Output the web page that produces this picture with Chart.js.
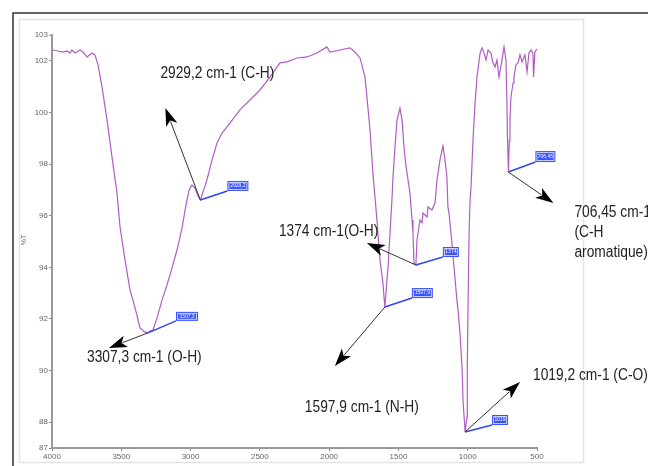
<!DOCTYPE html>
<html>
<head>
<meta charset="utf-8">
<script src="https://cdn.jsdelivr.net/npm/chart.js@4.4.1/dist/chart.umd.min.js"></script>
<style>
  html, body { margin: 0; padding: 0; background: #fff; }
  #wrap { position: relative; width: 648px; height: 466px; }
</style>
</head>
<body>
<div id="wrap"><canvas id="ir" width="648" height="466"></canvas></div>
<script>
// spectrum (wavenumber in cm-1, transmittance in %T)
const wavenumbers = [
  3993, 3957, 3921, 3892, 3870, 3856, 3834, 3798, 3776, 3747, 3711, 3690, 3668, 3639, 3603, 3567,
  3531, 3509, 3473, 3437, 3416, 3387, 3365, 3329, 3307, 3293, 3271, 3242, 3206, 3170, 3134, 3098,
  3062, 3033, 3011, 2990, 2968, 2946, 2929, 2882, 2845, 2809, 2773, 2716, 2644, 2571, 2499, 2427,
  2355, 2304, 2232, 2160, 2088, 2016, 1994, 1922, 1850, 1814, 1777, 1741, 1705, 1684, 1655, 1633,
  1612, 1598, 1575, 1547, 1539, 1525, 1510, 1489, 1474, 1460, 1445, 1438, 1417, 1402, 1395, 1388,
  1374, 1366, 1345, 1330, 1323, 1294, 1287, 1258, 1236, 1222, 1200, 1179, 1164, 1150, 1143, 1135,
  1114, 1099, 1078, 1070, 1056, 1041, 1034, 1019, 1005, 1003, 997, 990, 983, 976, 961, 947,
  933, 911, 896, 882, 868, 853, 832, 818, 803, 789, 774, 753, 738, 724, 717, 713,
  706, 700, 695, 688, 673, 666, 652, 637, 623, 608, 587, 580, 572, 558, 543, 529,
  525, 515, 500
];
const transmittance = [
  102.42, 102.38, 102.34, 102.38, 102.30, 102.42, 102.30, 102.42, 102.34, 102.15, 102.30, 102.23, 101.84, 100.99, 99.71, 98.27,
  96.88, 95.56, 94.28, 93.12, 92.73, 92.15, 91.65, 91.49, 91.46, 91.53, 91.57, 92.04, 92.73, 93.32, 93.97, 94.67,
  95.52, 96.42, 96.99, 97.19, 97.07, 96.76, 96.61, 97.38, 98.16, 98.82, 99.20, 99.59, 100.10, 100.48, 100.87, 101.37,
  101.92, 101.96, 102.11, 102.15, 102.30, 102.54, 102.34, 102.42, 102.50, 102.34, 102.11, 101.37, 99.32, 97.65, 95.83, 94.28,
  93.39, 92.46, 94.01, 96.61, 97.50, 98.66, 99.71, 100.17, 99.71, 98.66, 97.89, 97.65, 96.88, 95.83, 95.33, 94.17,
  94.09, 95.06, 95.83, 95.72, 96.10, 95.95, 96.34, 96.22, 96.49, 97.38, 98.16, 98.70, 98.16, 97.50, 96.34, 96.10,
  94.94, 94.01, 92.73, 92.35, 91.46, 90.14, 88.86, 87.62, 88.20, 90.14, 92.73, 95.33, 96.61, 97.11, 99.05, 100.37,
  101.37, 102.30, 102.50, 102.30, 102.03, 102.42, 102.30, 101.92, 101.76, 102.03, 101.37, 102.03, 102.54, 102.03, 100.37, 99.00,
  97.69, 98.90, 99.71, 100.60, 101.14, 101.37, 101.84, 101.92, 102.23, 101.96, 102.23, 101.92, 101.57, 102.30, 102.42, 102.30,
  101.37, 102.34, 102.46
];

const yTicks = [87, 88, 90, 92, 94, 96, 98, 100, 102, 103];

// labelled peaks
const peakWn = [2929.2, 3307.3, 1374, 1597.9, 1019.2, 706.45];
const peakT = [96.61, 91.46, 94.09, 92.46, 87.62, 97.69];
const peakLabels = [
  ["2929,2 cm-1 (C-H)"],
  ["3307,3 cm-1 (O-H)"],
  ["1374 cm-1(O-H)"],
  ["1597,9 cm-1 (N-H)"],
  ["1019,2 cm-1 (C-O)"],
  ["706,45 cm-1", "(C-H", "aromatique)"]
];
const peakTags = ["2929,2", "3307,3", "1374", "1597,9", "1019", "706,45"];

// offsets in px from the peak: arrow tip, text start, tag box
const calloutLayout = [
  { tip: [-35, -92], text: [-40, -126], box: [27, -19, 21, 10] },
  { tip: [-39, 15], text: [-61, 25], box: [28, -21, 22, 9] },
  { tip: [-49, -22], text: [-137, -33], box: [27, -18, 16, 10] },
  { tip: [-50, 59], text: [-80, 101], box: [27, -19, 21, 10] },
  { tip: [55, -50], text: [68, -56], box: [27, -17, 16, 10] },
  { tip: [45, 31], text: [66, 41], box: [27, -21, 20, 11] }
];

const frame = {
  id: 'frame',
  beforeDraw(chart) {
    const ctx = chart.ctx;
    ctx.save();
    ctx.fillStyle = '#fff';
    ctx.fillRect(0, 0, chart.width, chart.height);
    // light inner panel
    ctx.strokeStyle = '#e4e4e4';
    ctx.lineWidth = 1.5;
    ctx.strokeRect(19.5, 19.5, 564, 443);
    // outer black frame (top and left)
    ctx.strokeStyle = '#333';
    ctx.lineWidth = 1.5;
    ctx.beginPath();
    ctx.moveTo(13, 466);
    ctx.lineTo(13, 13);
    ctx.lineTo(648, 13);
    ctx.stroke();
    // y axis title
    ctx.translate(24, 240);
    ctx.rotate(-Math.PI / 2);
    ctx.fillStyle = '#777';
    ctx.font = '7px "Liberation Sans"';
    ctx.textAlign = 'center';
    ctx.textBaseline = 'middle';
    ctx.fillText('%T', 0, 0);
    ctx.restore();
  }
};

function arrow(ctx, x0, y0, x1, y1) {
  const a = Math.atan2(y1 - y0, x1 - x0);
  const len = 18, hw = 6;
  ctx.strokeStyle = '#333';
  ctx.lineWidth = 1;
  ctx.beginPath();
  ctx.moveTo(x0, y0);
  ctx.lineTo(x1 - Math.cos(a) * len * 0.8, y1 - Math.sin(a) * len * 0.8);
  ctx.stroke();
  ctx.fillStyle = '#000';
  ctx.beginPath();
  ctx.moveTo(x1, y1);
  ctx.lineTo(x1 - Math.cos(a) * len - Math.sin(a) * hw, y1 - Math.sin(a) * len + Math.cos(a) * hw);
  ctx.lineTo(x1 - Math.cos(a) * len * 0.75, y1 - Math.sin(a) * len * 0.75);
  ctx.lineTo(x1 - Math.cos(a) * len + Math.sin(a) * hw, y1 - Math.sin(a) * len - Math.cos(a) * hw);
  ctx.closePath();
  ctx.fill();
}

const callouts = {
  id: 'callouts',
  afterDatasetsDraw(chart) {
    const ctx = chart.ctx;
    const xs = chart.scales.x, ys = chart.scales.y;
    ctx.save();
    peakWn.forEach((wn, i) => {
      const px = xs.getPixelForValue(wn);
      const py = ys.getPixelForValue(peakT[i]);
      const lay = calloutLayout[i];
      // blue tag line and box
      const bx = px + lay.box[0], by = py + lay.box[1];
      ctx.strokeStyle = '#3048f0';
      ctx.lineWidth = 1.5;
      ctx.beginPath();
      ctx.moveTo(px, py);
      ctx.lineTo(bx, by + lay.box[3]);
      ctx.stroke();
      ctx.fillStyle = '#3a52ff';
      ctx.fillRect(bx, by, lay.box[2], lay.box[3]);
      ctx.strokeStyle = '#c8d0ff';
      ctx.lineWidth = 1;
      ctx.strokeRect(bx + 1.5, by + 1.5, lay.box[2] - 3, lay.box[3] - 3);
      ctx.fillStyle = '#fff';
      ctx.font = '5px "Liberation Sans"';
      ctx.textAlign = 'center';
      ctx.textBaseline = 'middle';
      ctx.fillText(peakTags[i], bx + lay.box[2] / 2, by + lay.box[3] / 2);
      // black arrow
      arrow(ctx, px, py, px + lay.tip[0], py + lay.tip[1]);
      // label text, slightly condensed
      ctx.fillStyle = '#222';
      ctx.font = '16px "Liberation Sans"';
      ctx.textAlign = 'left';
      peakLabels[i].forEach((line, k) => {
        ctx.save();
        ctx.translate(px + lay.text[0], py + lay.text[1] + k * 20);
        ctx.scale(0.86, 1);
        ctx.fillText(line, 0, 0);
        ctx.restore();
      });
    });
    ctx.restore();
  }
};

const tickFont = { family: '"Liberation Sans"', size: 8 };

new Chart(document.getElementById('ir'), {
  type: 'line',
  data: {
    datasets: [{
      data: wavenumbers.map((w, i) => ({ x: w, y: transmittance[i] })),
      borderColor: '#b05cc5',
      borderWidth: 1.2,
      pointRadius: 0,
      tension: 0,
      fill: false
    }]
  },
  options: {
    responsive: false,
    animation: false,
    events: [],
    layout: { padding: { left: 19, right: 111, top: 35, bottom: 4 } },
    plugins: { legend: { display: false }, tooltip: { enabled: false } },
    scales: {
      x: {
        type: 'linear',
        reverse: true,
        min: 500,
        max: 4000,
        ticks: {
          stepSize: 500, font: tickFont, color: '#666', maxRotation: 0, autoSkip: false, padding: 1,
          callback: v => String(v)
        },
        grid: { drawOnChartArea: false, tickLength: 3, color: '#888' },
        border: { color: '#999', width: 2 },
        afterFit(s) { s.height = 14; }
      },
      y: {
        min: 87,
        max: 103,
        afterBuildTicks(s) { s.ticks = yTicks.map(v => ({ value: v })); },
        ticks: { font: tickFont, color: '#666', padding: 1, callback: v => String(v) },
        grid: { drawOnChartArea: false, tickLength: 3, color: '#888' },
        border: { color: '#999', width: 2 },
        afterFit(s) { s.width = 33; }
      }
    }
  },
  plugins: [frame, callouts]
});
</script>
</body>
</html>
